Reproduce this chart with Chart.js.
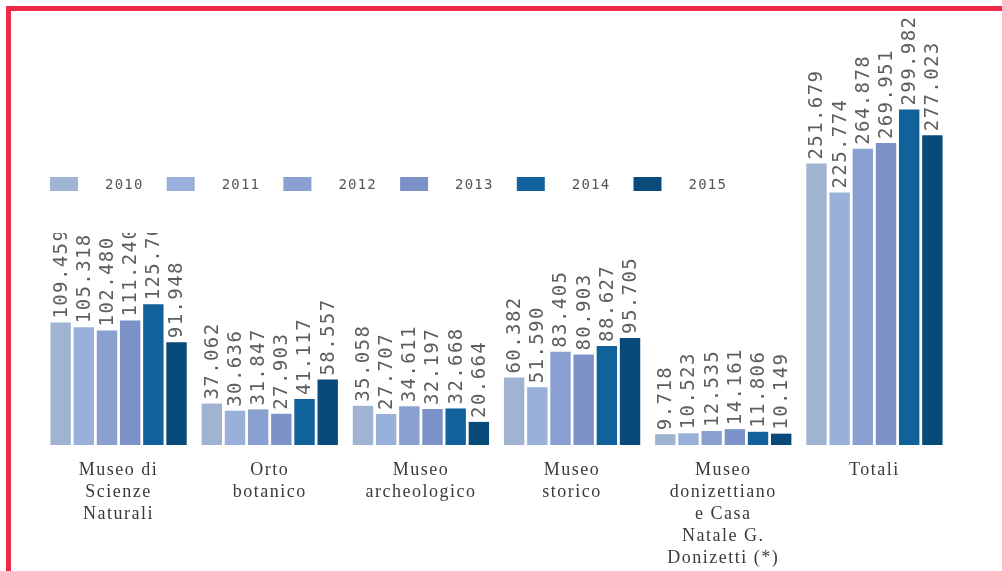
<!DOCTYPE html>
<html>
<head>
<meta charset="utf-8">
<script src="https://cdn.jsdelivr.net/npm/chart.js@4"></script>
<style>
  html, body { margin: 0; padding: 0; background: #fff; }
  #wrap { position: relative; width: 1002px; height: 571px; overflow: hidden; }
  #topBorder { position: absolute; left: 6px; top: 6px; width: 996px; height: 5px; background: #ec2a47; }
  #leftBorder { position: absolute; left: 6px; top: 6px; width: 5px; height: 565px; background: #ec2a47; }
  canvas { position: absolute; left: 0; top: 0; }
</style>
</head>
<body>
<div id="wrap">
  <canvas id="chart" width="1002" height="571"></canvas>
  <div id="topBorder"></div>
  <div id="leftBorder"></div>
</div>
<script>
// Categories (multi-line tick labels)
const categories = [
  ['Museo di', 'Scienze', 'Naturali'],
  ['Orto', 'botanico'],
  ['Museo', 'archeologico'],
  ['Museo', 'storico'],
  ['Museo', 'donizettiano', 'e Casa', 'Natale G.', 'Donizetti (*)'],
  ['Totali']
];

const years = ['2010', '2011', '2012', '2013', '2014', '2015'];

// Visitors per year
const v2010 = [109459, 37062, 35058, 60382, 9718, 251679];
const v2011 = [105318, 30636, 27707, 51590, 10523, 225774];
const v2012 = [102480, 31847, 34611, 83405, 12535, 264878];
const v2013 = [111240, 27903, 32197, 80903, 14161, 269951];
const v2014 = [125764, 41117, 32668, 88627, 11806, 299982];
const v2015 = [91948, 58557, 20664, 95705, 10149, 277023];

const colors = ['#a0b4d2', '#98b0da', '#89a0d0', '#7b91c7', '#11629b', '#084a7a'];

const series = [v2010, v2011, v2012, v2013, v2014, v2015];

function fmt(n) {
  return n.toString().replace(/\B(?=(\d{3})+(?!\d))/g, '.');
}

// wider spacing for the category labels
const spacing = {
  id: 'spacing',
  beforeDraw(chart) { chart.ctx.letterSpacing = '1.5px'; }
};

// Rotated value labels, then the legend panel drawn over them
const labelsAndLegend = {
  id: 'labelsAndLegend',
  afterDatasetsDraw(chart) {
    const ctx = chart.ctx;
    ctx.save();
    ctx.font = '19px "DejaVu Sans Mono"';
    ctx.fillStyle = '#5e5e5e';
    ctx.letterSpacing = '1.4px';
    ctx.textAlign = 'left';
    ctx.textBaseline = 'middle';
    chart.data.datasets.forEach((ds, i) => {
      chart.getDatasetMeta(i).data.forEach((bar, j) => {
        ctx.save();
        ctx.translate(bar.x + 1, bar.y - 4);
        ctx.rotate(-Math.PI / 2);
        ctx.fillText(fmt(ds.data[j]), 0, 0);
        ctx.restore();
      });
    });
    ctx.restore();

    // legend panel (white box hides the tops of the labels under it)
    ctx.save();
    ctx.fillStyle = '#fff';
    ctx.fillRect(12, 12, 780, 221);
    ctx.font = '14px "DejaVu Sans Mono"';
    ctx.letterSpacing = '1.2px';
    ctx.textBaseline = 'middle';
    years.forEach((y, i) => {
      const x = 50 + i * 116.7;
      ctx.fillStyle = colors[i];
      ctx.fillRect(x, 177, 28, 14);
      ctx.fillStyle = '#555';
      ctx.fillText(y, x + 55, 185);
    });
    ctx.restore();
  }
};

new Chart(document.getElementById('chart').getContext('2d'), {
  type: 'bar',
  data: {
    labels: categories,
    datasets: years.map((y, i) => ({
      label: y,
      data: series[i],
      backgroundColor: colors[i],
      borderWidth: 0,
      categoryPercentage: 0.92,
      barPercentage: 0.88
    }))
  },
  options: {
    responsive: false,
    animation: false,
    layout: { padding: { top: 20, left: 43, right: 52, bottom: 0 } },
    plugins: {
      legend: { display: false },
      tooltip: { enabled: false }
    },
    scales: {
      x: {
        grid: { display: false, drawTicks: false },
        border: { display: false },
        ticks: {
          color: '#3a3a3a',
          padding: 14,
          font: { family: '"Liberation Serif"', size: 18, lineHeight: 1.22 },
          maxRotation: 0,
          autoSkip: false
        },
        afterFit(scale) { scale.height = 126; }
      },
      y: {
        display: false,
        min: 0,
        max: 380000
      }
    }
  },
  plugins: [spacing, labelsAndLegend]
});
</script>
</body>
</html>
